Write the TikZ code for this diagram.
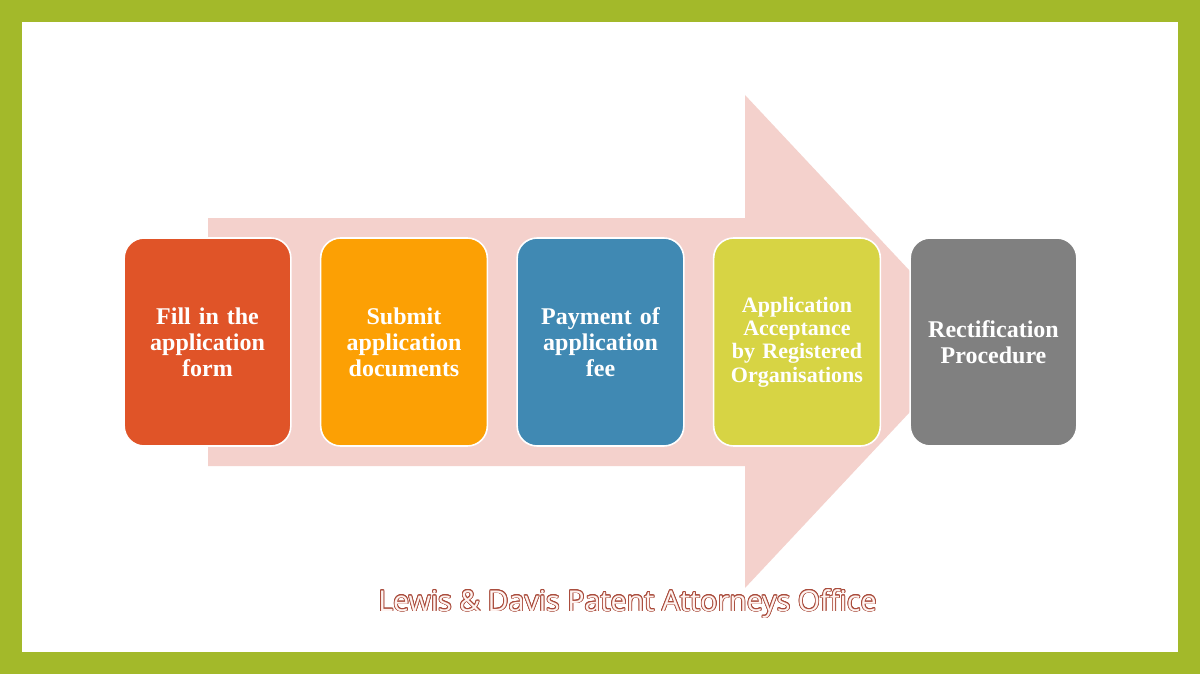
\documentclass[tikz,border=0pt]{standalone}
\usepackage{fontspec}
\setmainfont{Liberation Serif}
\newfontfamily\capfont{Open Sans}
\usepackage{contour}
\contourlength{0.6pt}
\definecolor{framegreen}{RGB}{163,185,42}
\definecolor{arrowpink}{RGB}{244,209,204}
\definecolor{capred}{RGB}{170,76,60}
\definecolor{capfill}{RGB}{254,243,240}
\definecolor{c1}{RGB}{224,84,40}
\definecolor{c2}{RGB}{252,160,4}
\definecolor{c3}{RGB}{64,137,179}
\definecolor{c4}{RGB}{215,212,68}
\definecolor{c5}{RGB}{128,128,128}
\begin{document}
\begin{tikzpicture}[x=0.75pt,y=-0.75pt,
	stage/.style={draw=white,line width=1.2pt,rounded corners=15pt,
		minimum width=125pt,minimum height=156pt,text width=115pt,align=center,
		text=white,font=\bfseries\fontsize{18}{19.5}\selectfont}]
	\useasboundingbox (0,0) rectangle (1200,674);
	\fill[framegreen] (0,0) rectangle (1200,674);
	\fill[white] (22,22) rectangle (1178,652);
	% big arrow behind the steps
	\fill[arrowpink] (208,218)--(745,218)--(745,95)--(976,341.5)--(745,588)--(745,466)--(208,466)--cycle;
	\path (11,342)
	foreach \i/\c[count=\k] in {{Fill in the\\application\\form}/c1,{Submit\\application\\documents}/c2,{Payment of\\application\\fee}/c3}
	{++(196.5,0) node[stage,fill=\c](1\k){\i}}
	++(196.5,0) node[stage,fill=c4,font=\bfseries\fontsize{16.5}{17.6}\selectfont](14){Application\\Acceptance\\by Registered\\Organisations}
	++(196.5,0) node[stage,fill=c5](15){Rectification\\Procedure};
	\node[font=\capfont\fontsize{21.5}{24}\selectfont,text=capfill] (cap) at (627.5,604) {\contour{capred}{Lewis \& Davis Patent Attorneys Office}};
\end{tikzpicture}
\end{document}
